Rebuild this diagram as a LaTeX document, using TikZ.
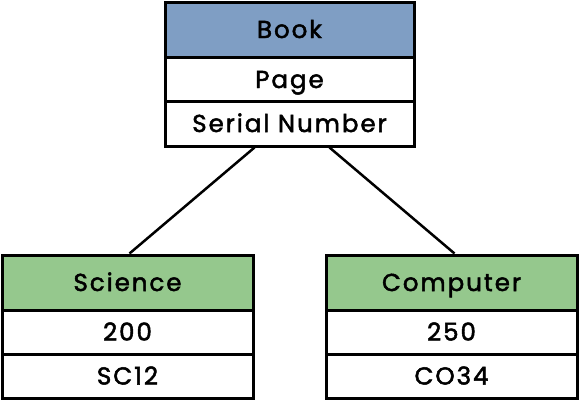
\documentclass[tikz,border=0pt]{standalone}
\usepackage{fontspec}
\setmainfont{Poppins}[LetterSpace=8,FakeBold=2]
\usetikzlibrary{calc}
\definecolor{hdrblue}{HTML}{7F9EC4}
\definecolor{hdrgreen}{HTML}{95C88D}
\begin{document}
\begin{tikzpicture}[x=1pt,y=-1pt,
  cell/.style={draw=black,line width=3pt,rectangle,inner sep=0pt,fill=white,
    font=\fontsize{24.5}{27}\selectfont,text=black,text height=17pt,text depth=0pt},
  link/.style={draw=black,line width=2.5pt}]
\useasboundingbox (0,0) rectangle (580,402);
% Book
\node[cell,fill=hdrblue,minimum width=249pt,minimum height=55pt] (bookH) at (289.5,29.5) {Book};
\node[cell,minimum width=249pt,minimum height=44pt] (bookA) at (289.5,79.5) {Page};
\node[cell,minimum width=249pt,minimum height=45pt] (bookB) at (289.5,123.5) {Serial Number};
% Science
\node[cell,fill=hdrgreen,minimum width=251pt,minimum height=55pt] (sciH) at (127.5,282.5) {Science};
\node[cell,minimum width=251pt,minimum height=44pt] (sciA) at (127.5,332) {200};
\node[cell,minimum width=251pt,minimum height=44pt] (sciB) at (127.5,376) {SC12};
% Computer
\node[cell,fill=hdrgreen,minimum width=251pt,minimum height=55pt] (comH) at (451.5,282.5) {Computer};
\node[cell,minimum width=251pt,minimum height=44pt] (comA) at (451.5,332) {250};
\node[cell,minimum width=251pt,minimum height=44pt] (comB) at (451.5,376) {CO34};
% connectors
\draw[link] ($(bookB.south)+(-35,0)$) -- ($(sciH.north)+(2,0)$);
\draw[link] ($(bookB.south)+(40,0)$) -- ($(comH.north)+(3,0)$);
\end{tikzpicture}
\end{document}
